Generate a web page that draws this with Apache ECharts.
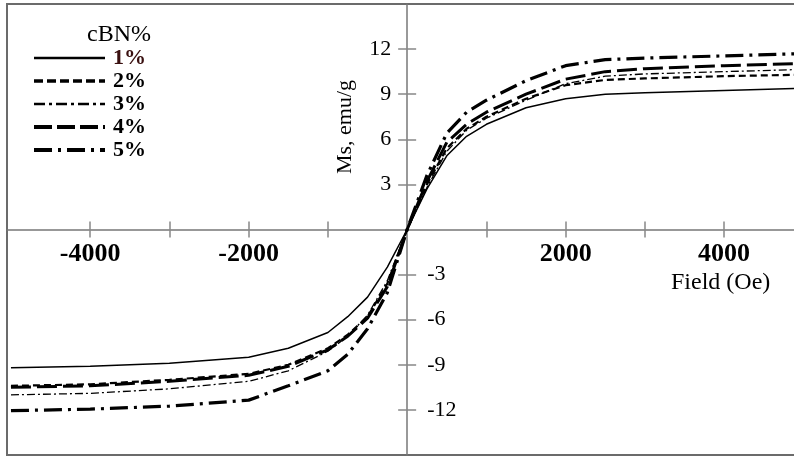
<!DOCTYPE html>
<html>
<head>
<meta charset="utf-8">
<script src="https://cdn.jsdelivr.net/npm/echarts@6/dist/echarts.min.js"></script>
<style>
html,body{margin:0;padding:0;background:#fff;}
#chart{width:794px;height:457px;}
</style>
</head>
<body>
<div id="chart"></div>
<script>
// Field values (Oe)
var fields = [-5000,-4000,-3000,-2000,-1500,-1000,-750,-500,-250,0,250,500,750,1000,1500,2000,2500,3000,4000,5000];
// Magnetization (emu/g) per cBN content
var ms1 = [-9.2,-9.1,-8.9,-8.5,-7.9,-6.85,-5.8,-4.5,-2.5,0,2.7,4.9,6.2,7.0,8.1,8.7,9.0,9.1,9.25,9.4];
var ms2 = [-10.4,-10.3,-10.0,-9.6,-9.0,-7.9,-7.0,-5.8,-3.6,0,3.0,5.4,6.7,7.5,8.7,9.6,9.95,10.05,10.2,10.3];
var ms3 = [-11.0,-10.9,-10.6,-10.1,-9.4,-8.1,-7.1,-5.7,-3.4,0,2.8,5.2,6.6,7.4,8.6,9.7,10.2,10.35,10.5,10.65];
var ms4 = [-10.5,-10.4,-10.1,-9.7,-9.1,-8.0,-7.1,-5.9,-3.8,0,3.2,5.8,7.0,7.8,9.0,10.0,10.5,10.7,10.9,11.05];
var ms5 = [-12.05,-11.95,-11.75,-11.35,-10.4,-9.4,-8.3,-6.6,-4.2,0,3.6,6.4,7.8,8.6,9.9,10.9,11.3,11.4,11.55,11.7];
var seriesNames = ['1%','2%','3%','4%','5%'];
var xTicks = [-4000,-3000,-2000,-1000,1000,2000,3000,4000];
var xLabels = [-4000,-2000,2000,4000];
var yTicks = [-12,-9,-6,-3,3,6,9,12];
var yLabelsPos = [3,6,9,12];
var yLabelsNeg = [-12,-9,-6,-3];

var serif = '"Liberation Serif","Times New Roman",serif';
var values = [ms1, ms2, ms3, ms4, ms5];
var styles = [
  {width:1.5, type:'solid'},
  {width:2.2, type:[7,4]},
  {width:1.3, type:[8,3,2,3]},
  {width:3, type:[20,6]},
  {width:3.2, type:[18,6,3,6]}
];
var legendStyles = [
  {width:2.5, type:'solid'},
  {width:3.5, type:[9,4]},
  {width:2.5, type:[11,4,3,4]},
  {width:4, type:[18,5]},
  {width:4, type:[18,6,3,6]}
];
function pairs(arr){ return fields.map(function(f,i){ return [f, arr[i]]; }); }

var series = values.map(function(v, i){
  return {
    name: seriesNames[i], type:'line', data: pairs(v),
    xAxisIndex:0, yAxisIndex:0,
    symbol:'none', showSymbol:false, smooth:false,
    lineStyle:{color:'#000', width:styles[i].width, type:styles[i].type},
    itemStyle:{color:'#000'}
  };
});

// grid geometry
var G = {left:7, right:-3, top:4, bottom:2};
var W = 794 - G.left - G.right, H = 457 - G.top - G.bottom;
var xMin = -5050, xMax = 4920, yMin = -15, yMax = 15;
var yOffset = -(H * (0 - yMin) / (yMax - yMin));      // move x axis up to y=0
var xOffset = -(W * (0 - xMin) / (xMax - xMin));      // move y axis right to x=0

function plain(v){ return String(v); }
var tickStyle = {color:'#888', width:1.5};
var chart = echarts.init(document.getElementById('chart'));
chart.setOption({
  animation:false,
  backgroundColor:'#fff',
  grid:{left:G.left, right:G.right, top:G.top, bottom:G.bottom, show:true, borderColor:'#6b6b6b', borderWidth:2, containLabel:false, outerBoundsMode:'none'},
  xAxis:[{
    type:'value', min:xMin, max:xMax, position:'bottom', offset:yOffset,
    axisLine:{onZero:false, lineStyle:{color:'#777', width:1.5}},
    axisTick:{show:true, customValues:xTicks, length:8, lineStyle:tickStyle},
    axisLabel:{customValues:xLabels, formatter:plain, margin:12, fontFamily:serif, fontSize:26, fontWeight:'bold', color:'#000'},
    splitLine:{show:false}
  },{
    type:'value', min:xMin, max:xMax, position:'bottom', offset:yOffset,
    axisLine:{onZero:false, lineStyle:{color:'#777', opacity:0}},
    axisTick:{show:true, inside:true, customValues:xTicks, length:8, lineStyle:tickStyle},
    axisLabel:{show:false},
    splitLine:{show:false}
  }],
  yAxis:[{
    type:'value', min:yMin, max:yMax, position:'left', offset:xOffset,
    axisLine:{onZero:false, lineStyle:{color:'#777', width:1.5}},
    axisTick:{show:true, customValues:yTicks, length:9, lineStyle:tickStyle},
    axisLabel:{customValues:yLabelsPos, formatter:plain, margin:16, fontFamily:serif, fontSize:22, color:'#000'},
    splitLine:{show:false}
  },{
    type:'value', min:yMin, max:yMax, position:'left', offset:xOffset,
    axisLine:{onZero:false, lineStyle:{color:'#777', opacity:0}},
    axisTick:{show:true, inside:true, customValues:yTicks, length:9, lineStyle:tickStyle},
    axisLabel:{inside:true, customValues:yLabelsNeg, formatter:plain, margin:20, fontFamily:serif, fontSize:22, color:'#000'},
    splitLine:{show:false}
  }],
  legend:{
    orient:'vertical', left:32, top:47, padding:0,
    itemWidth:71, itemHeight:14, itemGap:1,
    itemStyle:{opacity:0},
    textStyle:{fontFamily:serif, fontSize:22, fontWeight:'bold', color:'#000', padding:[0,0,0,3]},
    data: seriesNames.map(function(n, i){
      return {name:n, lineStyle:{color:'#000', width:legendStyles[i].width, type:legendStyles[i].type},
              textStyle:{color: i===0 ? '#3a1010' : '#000'}};
    })
  },
  graphic:[
    {type:'text', left:87, top:23, style:{text:'cBN%', font:'24px ' + serif, fill:'#000'}},
    {type:'text', left:671, top:271, style:{text:'Field (Oe)', font:'24px ' + serif, fill:'#000'}},
    {type:'text', x:345, y:127, rotation:Math.PI/2, style:{text:'Ms, emu/g', font:'22px ' + serif, fill:'#000', align:'center', verticalAlign:'middle'}}
  ],
  series: series
});
</script>
</body>
</html>
